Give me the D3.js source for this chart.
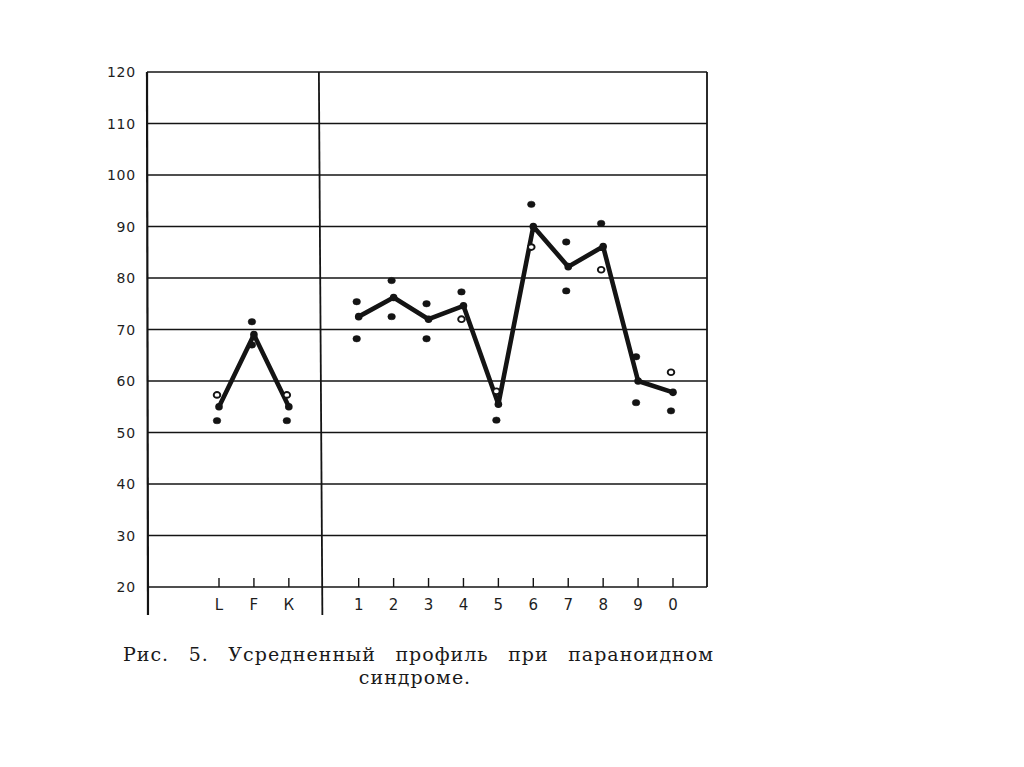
<!DOCTYPE html>
<html>
<head>
<meta charset="utf-8">
<script src="https://cdn.jsdelivr.net/npm/d3@7"></script>
<style>
  html, body { margin: 0; padding: 0; background: #fff; }
  svg { display: block; }
</style>
</head>
<body>
<svg id="chart" width="1024" height="767"></svg>
<script>
// ---- data ----
const yTicks = [20, 30, 40, 50, 60, 70, 80, 90, 100, 110, 120];
const validityScales = ["L", "F", "К"];
const clinicalScales = ["1", "2", "3", "4", "5", "6", "7", "8", "9", "0"];
const validityMean  = [55, 69, 55];
const validityUpper = [57.3, 71.5, 57.3];
const validityLower = [52.3, 67, 52.3];
const clinicalMean  = [72.5, 76.2, 72, 74.6, 55.5, 90, 82.2, 86.1, 60, 57.8];
const clinicalUpper = [75.4, 79.5, 75, 77.3, 58, 94.3, 87, 90.6, 64.7, 61.7];
const clinicalLower = [68.2, 72.5, 68.2, 72, 52.4, 86, 77.5, 81.6, 55.8, 54.2];
const captionLine1 = "Рис. 5. Усредненный профиль при параноидном";
const captionLine2 = "синдроме.";

// style: which dots are drawn hollow (group-index-which)
const hollow = new Set(["v-0-u", "v-2-u", "c-3-l", "c-4-u", "c-5-l", "c-7-l", "c-9-u"]);

(function () {
// ---- layout ----
const svg = d3.select("#chart");
const mLeft = 147, mRight = 707, mTop = 72, mBottom = 587;

const y = d3.scaleLinear().domain([20, 120]).range([mBottom, mTop]);
// slot positions: validity scales 0..2, gap at 3, clinical 4..13
const x = d3.scaleLinear().domain([0, 13]).range([219, 673]);
const vPos = validityScales.map((d, i) => i);
const cPos = clinicalScales.map((d, i) => i + 4);

const ink = "#141414";
const g = svg.append("g");

// horizontal grid
g.selectAll("line.grid").data(yTicks).join("line")
  .attr("x1", mLeft).attr("x2", mRight)
  .attr("y1", d => y(d)).attr("y2", d => y(d))
  .attr("stroke", ink).attr("stroke-width", 1.6);

// left axis line (extends below 20)
g.append("line").attr("x1", mLeft).attr("x2", mLeft + 1)
  .attr("y1", y(120)).attr("y2", y(20) + 28)
  .attr("stroke", ink).attr("stroke-width", 2.2);
// right border
g.append("line").attr("x1", mRight).attr("x2", mRight)
  .attr("y1", y(120)).attr("y2", y(20))
  .attr("stroke", ink).attr("stroke-width", 1.8);
// divider between validity and clinical scales
g.append("line").attr("x1", x(2.86)).attr("x2", x(2.96))
  .attr("y1", y(120)).attr("y2", y(20) + 28)
  .attr("stroke", ink).attr("stroke-width", 1.8);

// y tick labels
g.selectAll("text.ylab").data(yTicks).join("text")
  .attr("x", mLeft - 11).attr("y", d => y(d) + 5)
  .attr("text-anchor", "end")
  .attr("font-family", "DejaVu Sans, sans-serif")
  .attr("font-size", 14).attr("letter-spacing", 0.8)
  .attr("fill", "#1e1e1e")
  .text(d => d);

// bottom ticks and labels
const allCats = validityScales.map((d, i) => ({ label: d, pos: vPos[i] }))
  .concat(clinicalScales.map((d, i) => ({ label: d, pos: cPos[i] })));
g.selectAll("line.xtick").data(allCats).join("line")
  .attr("x1", d => x(d.pos)).attr("x2", d => x(d.pos))
  .attr("y1", y(20)).attr("y2", y(20) - 9)
  .attr("stroke", ink).attr("stroke-width", 1.4);
g.selectAll("text.xlab").data(allCats).join("text")
  .attr("x", d => x(d.pos)).attr("y", y(20) + 23)
  .attr("text-anchor", "middle")
  .attr("font-family", "DejaVu Sans, sans-serif")
  .attr("font-size", 15)
  .attr("fill", "#1e1e1e")
  .text(d => d.label);

// profile lines
const line = d3.line().x(d => x(d.pos)).y(d => y(d.v));
const vLine = validityMean.map((v, i) => ({ pos: vPos[i], v }));
const cLine = clinicalMean.map((v, i) => ({ pos: cPos[i], v }));
[vLine, cLine].forEach(data => {
  g.append("path").datum(data).attr("d", line)
    .attr("fill", "none").attr("stroke", ink)
    .attr("stroke-width", 4.6).attr("stroke-linejoin", "round")
    .attr("stroke-linecap", "round");
});

// vertex markers
g.selectAll("circle.vertex").data(vLine.concat(cLine)).join("circle")
  .attr("cx", d => x(d.pos)).attr("cy", d => y(d.v)).attr("r", 3.8)
  .attr("fill", ink);

// dispersion dots
const dots = [];
validityUpper.forEach((v, i) => dots.push({ key: `v-${i}-u`, pos: vPos[i], v }));
validityLower.forEach((v, i) => dots.push({ key: `v-${i}-l`, pos: vPos[i], v }));
clinicalUpper.forEach((v, i) => dots.push({ key: `c-${i}-u`, pos: cPos[i], v }));
clinicalLower.forEach((v, i) => dots.push({ key: `c-${i}-l`, pos: cPos[i], v }));
g.selectAll("ellipse.dot").data(dots).join("ellipse")
  .attr("cx", d => x(d.pos) - 2).attr("cy", d => y(d.v))
  .attr("rx", d => hollow.has(d.key) ? 3.3 : 3.8)
  .attr("ry", d => hollow.has(d.key) ? 2.9 : 3.2)
  .attr("fill", d => hollow.has(d.key) ? "#fff" : ink)
  .attr("stroke", ink)
  .attr("stroke-width", d => hollow.has(d.key) ? 1.9 : 0.5);

// caption (justified first line)
const capLeft = 123, capRight = 714, capY = 661;
const words = captionLine1.split(" ");
const capG = svg.append("g")
  .attr("font-family", "DejaVu Serif, Liberation Serif, serif")
  .attr("font-size", 19).attr("letter-spacing", 1).attr("fill", "#1a1a1a");
const wNodes = capG.selectAll("text.w").data(words).join("text")
  .attr("y", capY).text(d => d);
const widths = wNodes.nodes().map(n => n.getComputedTextLength());
const gap = (capRight - capLeft - d3.sum(widths)) / (words.length - 1);
let cursor = capLeft;
wNodes.attr("x", (d, i) => { const xx = cursor; cursor += widths[i] + gap; return xx; });
capG.append("text").attr("x", 415).attr("y", capY + 23)
  .attr("text-anchor", "middle").text(captionLine2);
})();
</script>
</body>
</html>
